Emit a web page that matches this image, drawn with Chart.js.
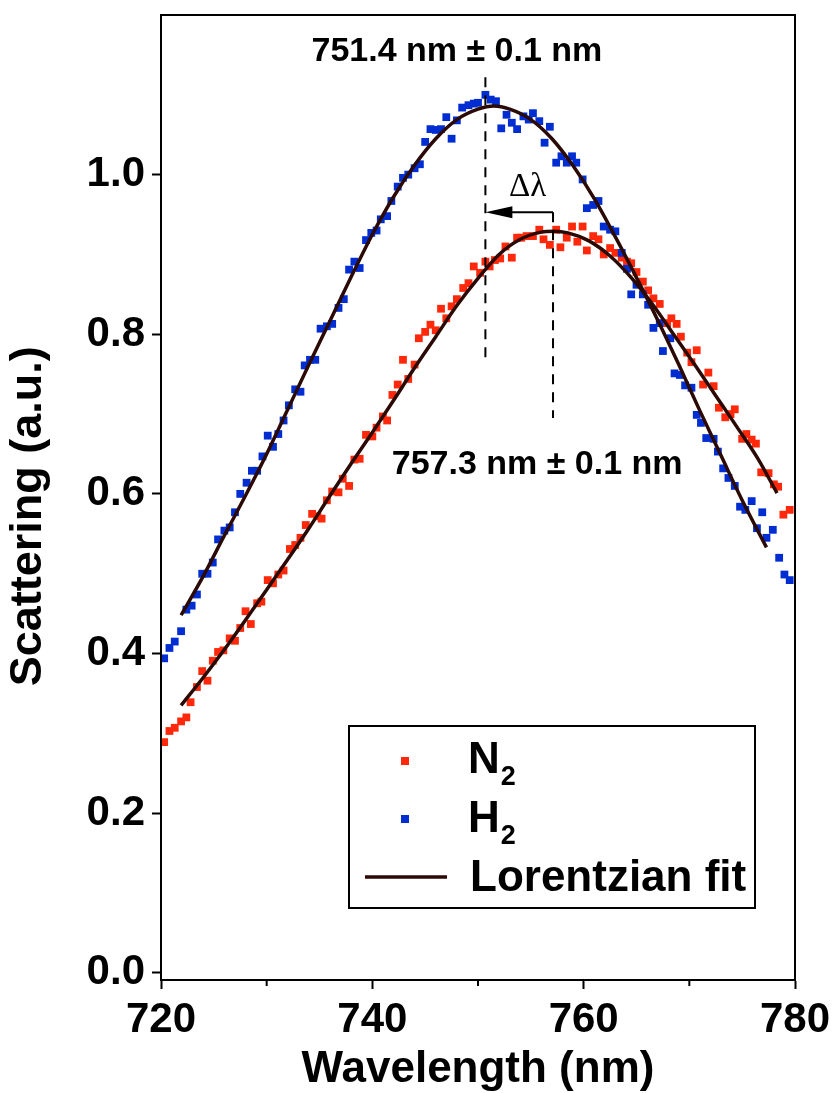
<!DOCTYPE html>
<html><head><meta charset="utf-8">
<script src="https://cdn.jsdelivr.net/npm/chart.js@4/dist/chart.umd.min.js"></script>
<style>html,body{margin:0;padding:0;background:#fff}#wrap{width:834px;height:1093px}canvas{display:block}</style>
</head><body><div id="wrap"><canvas id="c" width="834" height="1093"></canvas></div>
<script>
// ---------- data ----------
const h2Wavelength = [720.3,720.8,721.3,721.9,722.4,722.9,723.4,723.9,724.4,724.9,725.4,726.0,726.5,727.0,727.5,728.1,728.6,729.1,729.6,730.1,730.6,731.1,731.6,732.1,732.7,733.2,733.6,734.1,734.6,735.1,735.7,736.2,736.8,737.3,737.8,738.3,738.8,739.4,739.9,740.4,740.8,741.4,741.8,742.4,742.9,743.4,744.0,744.5,745.0,745.5,746.0,746.5,747.0,747.5,748.0,748.5,749.1,749.6,750.0,750.7,751.2,751.7,752.2,752.7,753.2,753.7,754.3,754.8,755.2,755.8,756.3,756.8,757.4,757.9,758.4,758.9,759.3,759.9,760.3,760.9,761.4,761.9,762.5,763.0,763.6,764.1,764.5,765.0,765.6,766.1,766.6,767.2,767.5,768.2,768.6,769.1,769.6,770.2,770.7,771.1,771.6,772.3,772.7,773.2,773.7,774.3,774.8,775.3,775.9,776.4,776.9,777.3,777.9,778.5,779.0,779.5];
const h2Scattering = [0.394,0.407,0.415,0.428,0.455,0.460,0.474,0.500,0.500,0.514,0.543,0.554,0.558,0.577,0.600,0.614,0.629,0.629,0.647,0.673,0.659,0.675,0.692,0.711,0.731,0.728,0.761,0.768,0.768,0.807,0.810,0.813,0.833,0.844,0.881,0.891,0.883,0.918,0.927,0.930,0.944,0.948,0.967,0.985,0.996,1.000,1.008,1.013,1.041,1.057,1.056,1.057,1.072,1.045,1.068,1.084,1.087,1.089,1.090,1.100,1.094,1.092,1.058,1.075,1.065,1.057,1.073,1.069,1.077,1.067,1.040,1.060,1.015,1.023,1.015,1.023,1.015,0.994,0.958,0.962,0.967,0.935,0.931,0.929,0.902,0.882,0.850,0.862,0.850,0.837,0.808,0.814,0.779,0.795,0.751,0.749,0.736,0.733,0.699,0.689,0.670,0.669,0.653,0.632,0.620,0.610,0.584,0.580,0.591,0.557,0.577,0.545,0.555,0.520,0.499,0.492];

const n2Wavelength = [720.3,720.8,721.3,721.9,722.4,722.8,723.4,723.9,724.4,724.9,725.4,725.9,726.5,727.0,727.5,728.0,728.5,729.1,729.5,730.1,730.6,731.1,731.6,732.2,732.7,733.2,733.7,734.3,734.8,735.2,735.7,736.2,736.8,737.2,737.8,738.3,738.8,739.4,740.0,740.4,741.0,741.4,741.9,742.4,742.9,743.4,744.0,744.4,745.0,745.5,746.0,746.5,747.0,747.5,748.0,748.6,749.1,749.6,750.2,750.7,751.1,751.6,752.1,752.6,753.2,753.7,754.1,754.6,755.2,755.8,756.2,756.8,757.4,757.8,758.4,758.9,759.4,759.9,760.3,760.9,761.4,761.9,762.5,763.0,763.6,764.1,764.5,765.0,765.6,766.1,766.6,767.2,767.9,768.3,768.8,769.2,769.8,770.2,770.7,771.3,771.8,772.3,772.8,773.4,773.9,774.3,775.0,775.4,775.9,776.3,776.8,777.5,778.0,778.4,778.9,779.5];
const n2Scattering = [0.289,0.303,0.307,0.315,0.320,0.339,0.358,0.378,0.366,0.391,0.402,0.404,0.419,0.416,0.432,0.453,0.437,0.463,0.465,0.492,0.488,0.499,0.504,0.531,0.536,0.545,0.561,0.575,0.572,0.569,0.592,0.603,0.602,0.619,0.610,0.643,0.644,0.674,0.672,0.683,0.697,0.692,0.724,0.737,0.768,0.744,0.762,0.795,0.803,0.812,0.805,0.832,0.820,0.835,0.844,0.858,0.864,0.885,0.877,0.891,0.885,0.893,0.895,0.910,0.896,0.921,0.921,0.923,0.923,0.931,0.919,0.912,0.931,0.909,0.921,0.935,0.916,0.935,0.905,0.923,0.919,0.900,0.908,0.902,0.896,0.891,0.889,0.878,0.866,0.855,0.845,0.838,0.814,0.820,0.813,0.797,0.777,0.765,0.780,0.737,0.752,0.735,0.708,0.696,0.700,0.706,0.669,0.675,0.668,0.663,0.627,0.626,0.612,0.609,0.574,0.580];

const h2FitWavelength = [721.9,724,726,728,730,732,734,736,738,740,742,744,746,748,750,751.5,753,755,757,759,761,763,765,767,769,771,773,775,777.3];
const h2FitValue = [0.448,0.497,0.548,0.598,0.650,0.706,0.762,0.817,0.872,0.925,0.972,1.012,1.045,1.069,1.082,1.086,1.082,1.069,1.045,1.011,0.970,0.922,0.871,0.818,0.762,0.704,0.648,0.592,0.533];

const n2FitWavelength = [721.9,724,726,728,730,732,734,736,738,740,742,744,746,748,750,752,754,756,757.2,758.5,760.5,762.5,764.5,766.5,768.5,770.5,772.5,774.5,776.5,778.3];
const n2FitValue = [0.335,0.370,0.405,0.442,0.480,0.518,0.557,0.598,0.638,0.677,0.717,0.758,0.797,0.836,0.870,0.900,0.919,0.928,0.929,0.927,0.917,0.898,0.871,0.838,0.800,0.762,0.723,0.684,0.644,0.601];

const xTickValues = [720,730,740,750,760,770,780];
const xLabelValues = [720,740,760,780];
const yTickValues = [0.0,0.2,0.4,0.6,0.8,1.0];

const seriesNames = ['N\u2082','H\u2082','Lorentzian fit'];

// annotation geometry (data units)
const h2PeakLine = {x:[750.7,750.7], y:[1.122,0.762]};
const n2PeakLine = {x:[757.1,757.1], y:[0.953,0.695]};
const shiftArrow = {x:[757.1,752.0], y:[0.953,0.953], tip:750.7};
const peakLabels = [
  {text:'751.4 nm \u00B1 0.1 nm', x:748.0, y:1.154},
  {text:'757.3 nm \u00B1 0.1 nm', x:755.6, y:0.637}
];
const deltaLabel = {text:'\u0394\u03BB', x:754.7, y:0.984};

// ---------- chart ----------
const RED = 'rgb(255,40,10)';
const BLUE = 'rgb(0,45,210)';
const FIT = '#2b0a05';
const FAMILY = '"Liberation Sans", Arial, Helvetica, sans-serif';
const pts = (xs, ys) => xs.map((v,i)=>({x:v, y:ys[i]}));

Chart.defaults.font.family = FAMILY;
Chart.defaults.color = '#000';

const overlay = {
  id:'overlay',
  afterDraw(chart){
    const {ctx, chartArea:a, scales:{x, y}} = chart;
    ctx.save();
    // frame
    ctx.strokeStyle = '#000'; ctx.lineWidth = 2;
    ctx.strokeRect(a.left, a.top, a.right - a.left, a.bottom - a.top);
    // minor x ticks
    xTickValues.filter(v => !xLabelValues.includes(v)).forEach(v => {
      const px = x.getPixelForValue(v);
      ctx.beginPath(); ctx.moveTo(px, a.bottom); ctx.lineTo(px, a.bottom + 6); ctx.stroke();
    });
    // arrow head
    const tx = x.getPixelForValue(shiftArrow.tip), ty = y.getPixelForValue(shiftArrow.y[0]);
    ctx.fillStyle = '#000';
    ctx.beginPath(); ctx.moveTo(tx, ty); ctx.lineTo(tx + 27, ty - 6); ctx.lineTo(tx + 27, ty + 6); ctx.closePath(); ctx.fill();
    // peak labels
    ctx.textAlign = 'center'; ctx.textBaseline = 'middle';
    ctx.font = 'bold 34px ' + FAMILY;
    peakLabels.forEach(l => ctx.fillText(l.text, x.getPixelForValue(l.x), y.getPixelForValue(l.y)));
    ctx.font = '33px "Liberation Serif", "Times New Roman", serif';
    ctx.fillText(deltaLabel.text, x.getPixelForValue(deltaLabel.x), y.getPixelForValue(deltaLabel.y));
    // legend
    ctx.lineWidth = 2; ctx.strokeStyle = '#000'; ctx.fillStyle = '#fff';
    ctx.fillRect(349, 726, 406, 182); ctx.strokeRect(349, 726, 406, 182);
    ctx.fillStyle = RED; ctx.fillRect(401, 757, 8, 8);
    ctx.fillStyle = BLUE; ctx.fillRect(401, 815, 8, 8);
    ctx.strokeStyle = FIT; ctx.lineWidth = 3.5;
    ctx.beginPath(); ctx.moveTo(365, 877); ctx.lineTo(447, 877); ctx.stroke();
    ctx.fillStyle = '#000'; ctx.textAlign = 'left'; ctx.textBaseline = 'alphabetic';
    const drawSub = (main, sub, x0, base) => {
      ctx.font = 'bold 44px ' + FAMILY; ctx.fillText(main, x0, base);
      const w = ctx.measureText(main).width;
      ctx.font = 'bold 27px ' + FAMILY; ctx.fillText(sub, x0 + w + 1, base + 12);
    };
    drawSub(seriesNames[0].charAt(0), '2', 468, 773);
    drawSub(seriesNames[1].charAt(0), '2', 468, 832);
    ctx.font = 'bold 44px ' + FAMILY; ctx.fillText(seriesNames[2], 470, 891);
    ctx.restore();
  }
};

const lineDs = (d, extra) => Object.assign({type:'scatter', data:d, showLine:true, pointRadius:0, borderColor:'#000', borderWidth:2, fill:false}, extra);

new Chart(document.getElementById('c'), {
  type:'scatter',
  data:{datasets:[
    lineDs(pts(h2PeakLine.x, h2PeakLine.y), {borderDash:[10,8], label:'h2peak'}),
    lineDs(pts(n2PeakLine.x, n2PeakLine.y), {borderDash:[10,8], label:'n2peak'}),
    lineDs(pts(shiftArrow.x, shiftArrow.y), {label:'arrow'}),
    lineDs(pts(h2FitWavelength, h2FitValue), {borderColor:FIT, borderWidth:3.5, cubicInterpolationMode:'monotone', label:'fitH2'}),
    lineDs(pts(n2FitWavelength, n2FitValue), {borderColor:FIT, borderWidth:3.5, cubicInterpolationMode:'monotone', label:'fitN2'}),
    {label:seriesNames[1], data:pts(h2Wavelength, h2Scattering), pointStyle:'rect', pointRadius:5.5, pointBorderWidth:0, backgroundColor:BLUE, borderColor:BLUE},
    {label:seriesNames[0], data:pts(n2Wavelength, n2Scattering), pointStyle:'rect', pointRadius:5.5, pointBorderWidth:0, backgroundColor:RED, borderColor:RED}
  ]},
  options:{
    responsive:false, animation:false, devicePixelRatio:1,
    layout:{padding:{top:15, right:39, left:0, bottom:0}},
    plugins:{legend:{display:false}, tooltip:{enabled:false}},
    scales:{
      x:{
        type:'linear', min:720, max:780,
        afterBuildTicks: s => { s.ticks = xTickValues.map(v => ({value:v})); },
        afterFit: s => { s.height = 113; s.paddingLeft = 0; s.paddingRight = 0; },
        border:{display:true, color:'#000', width:2},
        grid:{drawOnChartArea:false, drawTicks:true, tickLength:9, tickWidth:2,
              tickColor: c => (c.tick && xLabelValues.includes(c.tick.value)) ? '#000' : 'rgba(0,0,0,0)'},
        ticks:{color:'#000', padding:6, maxRotation:0, autoSkip:false,
               font:{size:42, weight:'bold'},
               callback: v => xLabelValues.includes(v) ? String(v) : ''},
        title:{display:true, text:'Wavelength (nm)', color:'#000',
               font:{size:44, weight:'bold', lineHeight:1}, padding:{top:0, bottom:1}}
      },
      y:{
        type:'linear', min:-0.009, max:1.2,
        afterBuildTicks: s => { s.ticks = yTickValues.map(v => ({value:v})); },
        afterFit: s => { s.width = 161; s.paddingTop = 0; s.paddingBottom = 0; },
        border:{display:true, color:'#000', width:2},
        grid:{drawOnChartArea:false, drawTicks:true, tickLength:9, tickWidth:2, tickColor:'#000'},
        ticks:{color:'#000', padding:7, font:{size:42, weight:'bold'},
               callback: v => Number(v).toFixed(1)},
        title:{display:true, text:'Scattering (a.u.)\u00A0\u00A0\u00A0', color:'#000',
               font:{size:45, weight:'bold', lineHeight:1}, padding:{top:6, bottom:0}}
      }
    }
  },
  plugins:[overlay]
});
</script>
</body></html>
